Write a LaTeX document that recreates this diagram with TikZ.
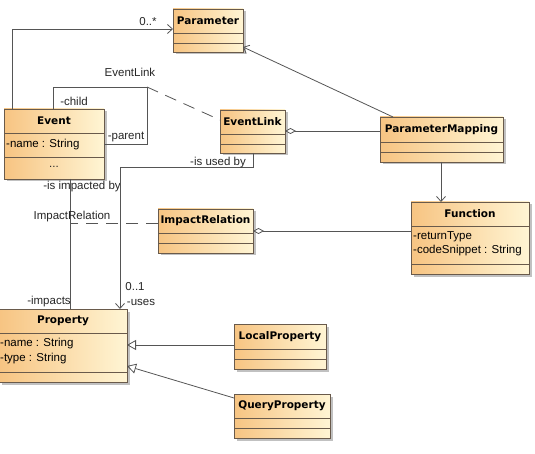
\documentclass[tikz,border=0pt]{standalone}
\usepackage{fontspec}
\setmainfont{Liberation Sans}
\newfontfamily\titlefont{DejaVu Sans}
\usetikzlibrary{arrows.meta,shadows}

\definecolor{clsorange}{RGB}{247,196,130}
\definecolor{clscream}{RGB}{255,245,212}
\definecolor{clsborder}{RGB}{105,90,75}
\definecolor{linkgray}{RGB}{85,85,85}

\tikzset{
  cls/.style={draw=clsborder, line width=0.8pt, left color=clsorange, right color=clscream,
    inner sep=0pt, outer sep=0pt,
    drop shadow={shadow xshift=2.5pt, shadow yshift=-2.5pt, fill=black!30, opacity=0.8}},
  cline/.style={draw=clsborder, line width=0.8pt},
  ctitle/.style={font=\titlefont\bfseries\fontsize{10.5}{12}\selectfont, inner sep=0pt},
  attr/.style={font=\fontsize{11.5}{13}\selectfont, inner sep=0pt, anchor=west},
  lbl/.style={font=\fontsize{11.5}{13}\selectfont, inner sep=0pt, text=black!85},
  assoc/.style={draw=linkgray, line width=0.8pt},
  navarrow/.style={-{Straight Barb[length=5pt,width=9pt]}},
  genarrow/.style={-{Triangle[open,length=9pt,width=10pt]}},
  aggr/.style={{Diamond[open,length=11pt,width=6pt]}-},
  linkdash/.style={dash pattern=on 12pt off 8pt}
}

% class box: name, x1, y1, x2, y2, first divider y, second divider y, title
\newcommand\umlclass[8]{%
  \node[cls, anchor=north west, minimum width={#4-#2}, minimum height={#5-#3}] (#1) at (#2,#3) {};
  \draw[cline] (#2,#6) -- (#4,#6) (#2,#7) -- (#4,#7);
  \node[ctitle] (#1-t) at ({(#2+#4)/2},{(#3+#6)/2}) {#8};
}

\begin{document}
\begin{tikzpicture}[x=1pt,y=-1pt]
\useasboundingbox (0,0) rectangle (535,454);

% classes
\umlclass{param}{173}{9}{243}{52}{33}{43}{Parameter}
\umlclass{event}{4}{109}{104}{179}{133}{157}{Event}
\umlclass{elink}{220}{110}{285}{153}{134}{144}{EventLink}
\umlclass{pmap}{380}{117}{503}{162}{142}{152}{ParameterMapping}
\umlclass{irel}{158}{209}{253}{253}{233}{243}{ImpactRelation}
\umlclass{func}{411}{202}{529}{274}{226}{264}{Function}
\umlclass{prop}{-1}{309}{127}{382}{333}{372}{Property}
\umlclass{lprop}{234}{324}{326}{369}{349}{359}{LocalProperty}
\umlclass{qprop}{234}{394}{330}{438}{418}{428}{QueryProperty}

% attributes
\node[attr] (event-a1) at (6,145) {-name : String};
\node[lbl] (event-a2) at (54,167) {...};
\node[attr] (func-a1) at (413,237) {-returnType};
\node[attr] (func-a2) at (413,251) {-codeSnippet : String};
\node[attr] (prop-a1) at (0,344) {-name : String};
\node[attr] (prop-a2) at (0,359) {-type : String};

% Event -> Parameter
\draw[assoc, navarrow] ([xshift=8pt]event.north west) |- ([yshift=-20pt]param.north west);
\node[lbl] (l-many) at (148,22) {0..*};

% Event self association (child / parent)
\coordinate (loopc) at (147,87);
\draw[assoc] ([xshift=49pt]event.north west) |- (loopc) |- ([yshift=-35pt]event.north east);
\node[lbl] (l-child) at (74,101) {-child};
\node[lbl] (l-parent) at (126,137) {-parent};
\node[lbl] (l-elink) at (130,72) {EventLink};
\draw[assoc, linkdash] (loopc) -- ([yshift=-10pt]elink.north west);

% ParameterMapping -> Parameter
\draw[assoc, navarrow] ([xshift=13pt]pmap.north west) -- ([yshift=-38pt]param.north east);

% EventLink <>-- ParameterMapping
\draw[assoc, aggr] ([yshift=-21pt]elink.north east) -- ([yshift=-14pt]pmap.north west);

% ParameterMapping -> Function
\draw[assoc, navarrow] ([xshift=61pt]pmap.south west) -- ([xshift=30pt]func.north west);

% ImpactRelation <>-- Function
\draw[assoc, aggr] ([yshift=-22pt]irel.north east) -- ([yshift=-29pt]func.north west);

% Event -- Property (impacts)
\draw[assoc] ([xshift=66pt]event.south west) -- ([xshift=71pt]prop.north west);
\node[lbl] (l-impby) at (82,187) {-is impacted by};
\node[lbl] (l-impacts) at (49,302) {-impacts};
\coordinate (irelc) at (70,223);
\draw[assoc, linkdash] ([yshift=-14pt]irel.north west) -- (irelc);
\node[lbl] (l-irel) at (72,217) {ImpactRelation};

% EventLink -> Property (uses)
\draw[assoc, navarrow] ([xshift=33pt]elink.south west) -- ++(0,14) -| ([xshift=121pt]prop.north west);
\node[lbl] (l-usedby) at (218,163) {-is used by};
\node[lbl] (l-one) at (135,287) {0..1};
\node[lbl] (l-uses) at (141,302) {-uses};

% generalizations
\draw[assoc, genarrow] ([yshift=-21pt]lprop.north west) -- ([yshift=-36pt]prop.north east);
\draw[assoc, genarrow] ([yshift=-4pt]qprop.north west) -- ([yshift=-57pt]prop.north east);
\end{tikzpicture}
\end{document}
